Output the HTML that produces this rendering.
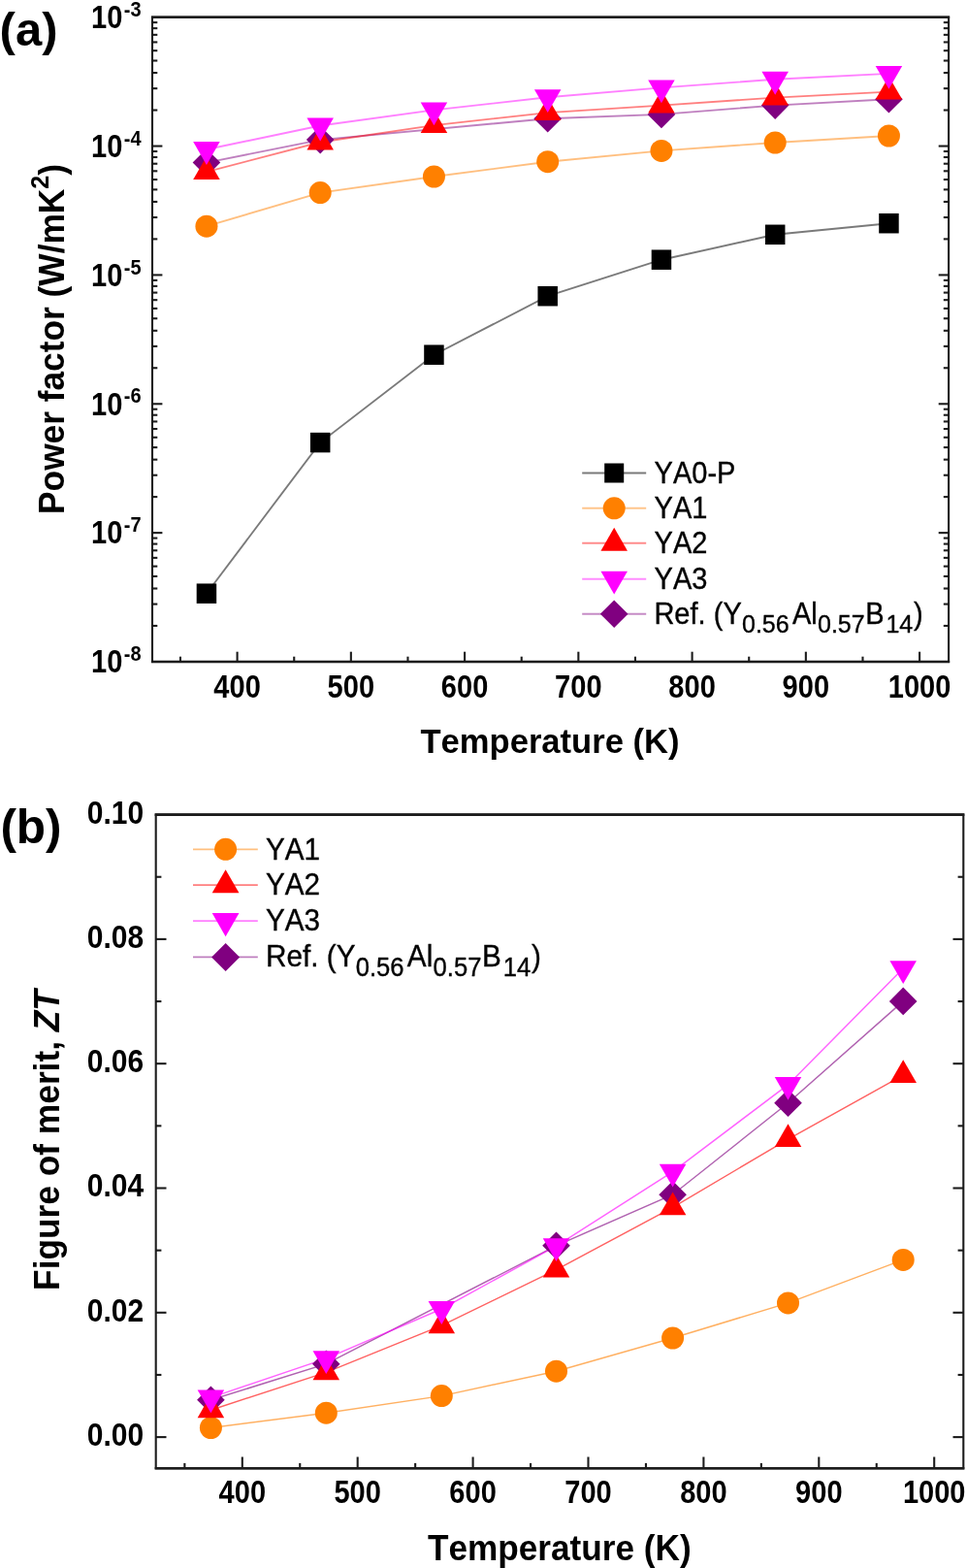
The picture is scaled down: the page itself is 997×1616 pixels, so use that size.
<!DOCTYPE html>
<html><head><meta charset="utf-8"><title>Figure</title>
<style>html,body{margin:0;padding:0;background:#fff}svg text{font-family:"Liberation Sans",Arial,sans-serif;font-kerning:none}</style>
</head><body>
<svg width="997" height="1616" viewBox="0 0 997 1616" style="display:block">
<rect width="997" height="1616" fill="#fff"/>
<g id="chartA">
<polyline points="212.94,611.70 330.19,456.10 447.44,365.70 564.69,305.20 681.94,267.70 799.19,241.80 916.44,230.20" fill="none" stroke="#000" stroke-width="1.9" stroke-opacity="0.52"/>
<polyline points="212.94,233.20 330.19,198.60 447.44,182.00 564.69,166.70 681.94,155.40 799.19,147.00 916.44,140.00" fill="none" stroke="#FF8000" stroke-width="1.9" stroke-opacity="0.5"/>
<polyline points="212.94,167.60 330.19,144.10 564.69,122.20 681.94,117.90 799.19,108.60 916.44,102.30" fill="none" stroke="#800080" stroke-width="1.9" stroke-opacity="0.5"/>
<polyline points="212.94,177.10 330.19,146.50 447.44,129.10 564.69,116.10 681.94,108.60 799.19,100.60 916.44,94.60" fill="none" stroke="#FF0000" stroke-width="1.9" stroke-opacity="0.5"/>
<polyline points="212.94,154.00 330.19,129.50 447.44,113.40 564.69,100.20 681.94,90.40 799.19,81.80 916.44,75.90" fill="none" stroke="#FF00FF" stroke-width="1.9" stroke-opacity="0.5"/>
<rect x="202.69" y="601.45" width="20.5" height="20.5" fill="#000"/>
<rect x="319.94" y="445.85" width="20.5" height="20.5" fill="#000"/>
<rect x="437.19" y="355.45" width="20.5" height="20.5" fill="#000"/>
<rect x="554.44" y="294.95" width="20.5" height="20.5" fill="#000"/>
<rect x="671.69" y="257.45" width="20.5" height="20.5" fill="#000"/>
<rect x="788.94" y="231.55" width="20.5" height="20.5" fill="#000"/>
<rect x="906.19" y="219.95" width="20.5" height="20.5" fill="#000"/>
<circle cx="212.94" cy="233.20" r="11.5" fill="#FF8000"/>
<circle cx="330.19" cy="198.60" r="11.5" fill="#FF8000"/>
<circle cx="447.44" cy="182.00" r="11.5" fill="#FF8000"/>
<circle cx="564.69" cy="166.70" r="11.5" fill="#FF8000"/>
<circle cx="681.94" cy="155.40" r="11.5" fill="#FF8000"/>
<circle cx="799.19" cy="147.00" r="11.5" fill="#FF8000"/>
<circle cx="916.44" cy="140.00" r="11.5" fill="#FF8000"/>
<polygon points="198.64,167.60 212.94,153.30 227.24,167.60 212.94,181.90" fill="#800080"/>
<polygon points="315.89,144.10 330.19,129.80 344.49,144.10 330.19,158.40" fill="#800080"/>
<polygon points="550.39,122.20 564.69,107.90 578.99,122.20 564.69,136.50" fill="#800080"/>
<polygon points="667.64,117.90 681.94,103.60 696.24,117.90 681.94,132.20" fill="#800080"/>
<polygon points="784.89,108.60 799.19,94.30 813.49,108.60 799.19,122.90" fill="#800080"/>
<polygon points="902.14,102.30 916.44,88.00 930.74,102.30 916.44,116.60" fill="#800080"/>
<polygon points="199.19,185.04 226.69,185.04 212.94,161.22" fill="#FF0000"/>
<polygon points="316.44,154.44 343.94,154.44 330.19,130.62" fill="#FF0000"/>
<polygon points="433.69,137.04 461.19,137.04 447.44,113.22" fill="#FF0000"/>
<polygon points="550.94,124.04 578.44,124.04 564.69,100.22" fill="#FF0000"/>
<polygon points="668.19,116.54 695.69,116.54 681.94,92.72" fill="#FF0000"/>
<polygon points="785.44,108.54 812.94,108.54 799.19,84.72" fill="#FF0000"/>
<polygon points="902.69,102.54 930.19,102.54 916.44,78.72" fill="#FF0000"/>
<polygon points="199.19,146.06 226.69,146.06 212.94,169.88" fill="#FF00FF"/>
<polygon points="316.44,121.56 343.94,121.56 330.19,145.38" fill="#FF00FF"/>
<polygon points="433.69,105.46 461.19,105.46 447.44,129.28" fill="#FF00FF"/>
<polygon points="550.94,92.26 578.44,92.26 564.69,116.08" fill="#FF00FF"/>
<polygon points="668.19,82.46 695.69,82.46 681.94,106.28" fill="#FF00FF"/>
<polygon points="785.44,73.86 812.94,73.86 799.19,97.68" fill="#FF00FF"/>
<polygon points="902.69,67.96 930.19,67.96 916.44,91.78" fill="#FF00FF"/>
<rect x="157.0" y="17.7" width="821.10" height="664.30" fill="none" stroke="#1c1c1c" stroke-width="2.1"/>
<path d="M155.95,17.7H979.15M155.95,682.0H979.15" fill="none" stroke="#1c1c1c" stroke-width="2.6"/>
<line x1="185.97" y1="682.00" x2="185.97" y2="676.70" stroke="#1c1c1c" stroke-width="2.1"/>
<line x1="244.60" y1="682.00" x2="244.60" y2="671.70" stroke="#1c1c1c" stroke-width="2.1"/>
<line x1="303.23" y1="682.00" x2="303.23" y2="676.70" stroke="#1c1c1c" stroke-width="2.1"/>
<line x1="361.85" y1="682.00" x2="361.85" y2="671.70" stroke="#1c1c1c" stroke-width="2.1"/>
<line x1="420.48" y1="682.00" x2="420.48" y2="676.70" stroke="#1c1c1c" stroke-width="2.1"/>
<line x1="479.10" y1="682.00" x2="479.10" y2="671.70" stroke="#1c1c1c" stroke-width="2.1"/>
<line x1="537.73" y1="682.00" x2="537.73" y2="676.70" stroke="#1c1c1c" stroke-width="2.1"/>
<line x1="596.35" y1="682.00" x2="596.35" y2="671.70" stroke="#1c1c1c" stroke-width="2.1"/>
<line x1="654.98" y1="682.00" x2="654.98" y2="676.70" stroke="#1c1c1c" stroke-width="2.1"/>
<line x1="713.60" y1="682.00" x2="713.60" y2="671.70" stroke="#1c1c1c" stroke-width="2.1"/>
<line x1="772.23" y1="682.00" x2="772.23" y2="676.70" stroke="#1c1c1c" stroke-width="2.1"/>
<line x1="830.85" y1="682.00" x2="830.85" y2="671.70" stroke="#1c1c1c" stroke-width="2.1"/>
<line x1="889.48" y1="682.00" x2="889.48" y2="676.70" stroke="#1c1c1c" stroke-width="2.1"/>
<line x1="948.10" y1="682.00" x2="948.10" y2="671.70" stroke="#1c1c1c" stroke-width="2.1"/>
<line x1="157.00" y1="113.52" x2="162.30" y2="113.52" stroke="#1c1c1c" stroke-width="2.1"/>
<line x1="978.10" y1="113.52" x2="972.80" y2="113.52" stroke="#1c1c1c" stroke-width="2.1"/>
<line x1="157.00" y1="91.15" x2="162.30" y2="91.15" stroke="#1c1c1c" stroke-width="2.1"/>
<line x1="978.10" y1="91.15" x2="972.80" y2="91.15" stroke="#1c1c1c" stroke-width="2.1"/>
<line x1="157.00" y1="75.07" x2="162.30" y2="75.07" stroke="#1c1c1c" stroke-width="2.1"/>
<line x1="978.10" y1="75.07" x2="972.80" y2="75.07" stroke="#1c1c1c" stroke-width="2.1"/>
<line x1="157.00" y1="62.51" x2="162.30" y2="62.51" stroke="#1c1c1c" stroke-width="2.1"/>
<line x1="978.10" y1="62.51" x2="972.80" y2="62.51" stroke="#1c1c1c" stroke-width="2.1"/>
<line x1="157.00" y1="52.20" x2="162.30" y2="52.20" stroke="#1c1c1c" stroke-width="2.1"/>
<line x1="978.10" y1="52.20" x2="972.80" y2="52.20" stroke="#1c1c1c" stroke-width="2.1"/>
<line x1="157.00" y1="43.45" x2="162.30" y2="43.45" stroke="#1c1c1c" stroke-width="2.1"/>
<line x1="978.10" y1="43.45" x2="972.80" y2="43.45" stroke="#1c1c1c" stroke-width="2.1"/>
<line x1="157.00" y1="35.86" x2="162.30" y2="35.86" stroke="#1c1c1c" stroke-width="2.1"/>
<line x1="978.10" y1="35.86" x2="972.80" y2="35.86" stroke="#1c1c1c" stroke-width="2.1"/>
<line x1="157.00" y1="29.15" x2="162.30" y2="29.15" stroke="#1c1c1c" stroke-width="2.1"/>
<line x1="978.10" y1="29.15" x2="972.80" y2="29.15" stroke="#1c1c1c" stroke-width="2.1"/>
<line x1="157.00" y1="23.14" x2="162.30" y2="23.14" stroke="#1c1c1c" stroke-width="2.1"/>
<line x1="978.10" y1="23.14" x2="972.80" y2="23.14" stroke="#1c1c1c" stroke-width="2.1"/>
<line x1="157.00" y1="150.56" x2="167.40" y2="150.56" stroke="#1c1c1c" stroke-width="2.1"/>
<line x1="978.10" y1="150.56" x2="967.70" y2="150.56" stroke="#1c1c1c" stroke-width="2.1"/>
<line x1="157.00" y1="246.38" x2="162.30" y2="246.38" stroke="#1c1c1c" stroke-width="2.1"/>
<line x1="978.10" y1="246.38" x2="972.80" y2="246.38" stroke="#1c1c1c" stroke-width="2.1"/>
<line x1="157.00" y1="224.01" x2="162.30" y2="224.01" stroke="#1c1c1c" stroke-width="2.1"/>
<line x1="978.10" y1="224.01" x2="972.80" y2="224.01" stroke="#1c1c1c" stroke-width="2.1"/>
<line x1="157.00" y1="207.93" x2="162.30" y2="207.93" stroke="#1c1c1c" stroke-width="2.1"/>
<line x1="978.10" y1="207.93" x2="972.80" y2="207.93" stroke="#1c1c1c" stroke-width="2.1"/>
<line x1="157.00" y1="195.37" x2="162.30" y2="195.37" stroke="#1c1c1c" stroke-width="2.1"/>
<line x1="978.10" y1="195.37" x2="972.80" y2="195.37" stroke="#1c1c1c" stroke-width="2.1"/>
<line x1="157.00" y1="185.06" x2="162.30" y2="185.06" stroke="#1c1c1c" stroke-width="2.1"/>
<line x1="978.10" y1="185.06" x2="972.80" y2="185.06" stroke="#1c1c1c" stroke-width="2.1"/>
<line x1="157.00" y1="176.31" x2="162.30" y2="176.31" stroke="#1c1c1c" stroke-width="2.1"/>
<line x1="978.10" y1="176.31" x2="972.80" y2="176.31" stroke="#1c1c1c" stroke-width="2.1"/>
<line x1="157.00" y1="168.72" x2="162.30" y2="168.72" stroke="#1c1c1c" stroke-width="2.1"/>
<line x1="978.10" y1="168.72" x2="972.80" y2="168.72" stroke="#1c1c1c" stroke-width="2.1"/>
<line x1="157.00" y1="162.01" x2="162.30" y2="162.01" stroke="#1c1c1c" stroke-width="2.1"/>
<line x1="978.10" y1="162.01" x2="972.80" y2="162.01" stroke="#1c1c1c" stroke-width="2.1"/>
<line x1="157.00" y1="156.00" x2="162.30" y2="156.00" stroke="#1c1c1c" stroke-width="2.1"/>
<line x1="978.10" y1="156.00" x2="972.80" y2="156.00" stroke="#1c1c1c" stroke-width="2.1"/>
<line x1="157.00" y1="283.42" x2="167.40" y2="283.42" stroke="#1c1c1c" stroke-width="2.1"/>
<line x1="978.10" y1="283.42" x2="967.70" y2="283.42" stroke="#1c1c1c" stroke-width="2.1"/>
<line x1="157.00" y1="379.24" x2="162.30" y2="379.24" stroke="#1c1c1c" stroke-width="2.1"/>
<line x1="978.10" y1="379.24" x2="972.80" y2="379.24" stroke="#1c1c1c" stroke-width="2.1"/>
<line x1="157.00" y1="356.87" x2="162.30" y2="356.87" stroke="#1c1c1c" stroke-width="2.1"/>
<line x1="978.10" y1="356.87" x2="972.80" y2="356.87" stroke="#1c1c1c" stroke-width="2.1"/>
<line x1="157.00" y1="340.79" x2="162.30" y2="340.79" stroke="#1c1c1c" stroke-width="2.1"/>
<line x1="978.10" y1="340.79" x2="972.80" y2="340.79" stroke="#1c1c1c" stroke-width="2.1"/>
<line x1="157.00" y1="328.23" x2="162.30" y2="328.23" stroke="#1c1c1c" stroke-width="2.1"/>
<line x1="978.10" y1="328.23" x2="972.80" y2="328.23" stroke="#1c1c1c" stroke-width="2.1"/>
<line x1="157.00" y1="317.92" x2="162.30" y2="317.92" stroke="#1c1c1c" stroke-width="2.1"/>
<line x1="978.10" y1="317.92" x2="972.80" y2="317.92" stroke="#1c1c1c" stroke-width="2.1"/>
<line x1="157.00" y1="309.17" x2="162.30" y2="309.17" stroke="#1c1c1c" stroke-width="2.1"/>
<line x1="978.10" y1="309.17" x2="972.80" y2="309.17" stroke="#1c1c1c" stroke-width="2.1"/>
<line x1="157.00" y1="301.58" x2="162.30" y2="301.58" stroke="#1c1c1c" stroke-width="2.1"/>
<line x1="978.10" y1="301.58" x2="972.80" y2="301.58" stroke="#1c1c1c" stroke-width="2.1"/>
<line x1="157.00" y1="294.87" x2="162.30" y2="294.87" stroke="#1c1c1c" stroke-width="2.1"/>
<line x1="978.10" y1="294.87" x2="972.80" y2="294.87" stroke="#1c1c1c" stroke-width="2.1"/>
<line x1="157.00" y1="288.86" x2="162.30" y2="288.86" stroke="#1c1c1c" stroke-width="2.1"/>
<line x1="978.10" y1="288.86" x2="972.80" y2="288.86" stroke="#1c1c1c" stroke-width="2.1"/>
<line x1="157.00" y1="416.28" x2="167.40" y2="416.28" stroke="#1c1c1c" stroke-width="2.1"/>
<line x1="978.10" y1="416.28" x2="967.70" y2="416.28" stroke="#1c1c1c" stroke-width="2.1"/>
<line x1="157.00" y1="512.10" x2="162.30" y2="512.10" stroke="#1c1c1c" stroke-width="2.1"/>
<line x1="978.10" y1="512.10" x2="972.80" y2="512.10" stroke="#1c1c1c" stroke-width="2.1"/>
<line x1="157.00" y1="489.73" x2="162.30" y2="489.73" stroke="#1c1c1c" stroke-width="2.1"/>
<line x1="978.10" y1="489.73" x2="972.80" y2="489.73" stroke="#1c1c1c" stroke-width="2.1"/>
<line x1="157.00" y1="473.65" x2="162.30" y2="473.65" stroke="#1c1c1c" stroke-width="2.1"/>
<line x1="978.10" y1="473.65" x2="972.80" y2="473.65" stroke="#1c1c1c" stroke-width="2.1"/>
<line x1="157.00" y1="461.09" x2="162.30" y2="461.09" stroke="#1c1c1c" stroke-width="2.1"/>
<line x1="978.10" y1="461.09" x2="972.80" y2="461.09" stroke="#1c1c1c" stroke-width="2.1"/>
<line x1="157.00" y1="450.78" x2="162.30" y2="450.78" stroke="#1c1c1c" stroke-width="2.1"/>
<line x1="978.10" y1="450.78" x2="972.80" y2="450.78" stroke="#1c1c1c" stroke-width="2.1"/>
<line x1="157.00" y1="442.03" x2="162.30" y2="442.03" stroke="#1c1c1c" stroke-width="2.1"/>
<line x1="978.10" y1="442.03" x2="972.80" y2="442.03" stroke="#1c1c1c" stroke-width="2.1"/>
<line x1="157.00" y1="434.44" x2="162.30" y2="434.44" stroke="#1c1c1c" stroke-width="2.1"/>
<line x1="978.10" y1="434.44" x2="972.80" y2="434.44" stroke="#1c1c1c" stroke-width="2.1"/>
<line x1="157.00" y1="427.73" x2="162.30" y2="427.73" stroke="#1c1c1c" stroke-width="2.1"/>
<line x1="978.10" y1="427.73" x2="972.80" y2="427.73" stroke="#1c1c1c" stroke-width="2.1"/>
<line x1="157.00" y1="421.72" x2="162.30" y2="421.72" stroke="#1c1c1c" stroke-width="2.1"/>
<line x1="978.10" y1="421.72" x2="972.80" y2="421.72" stroke="#1c1c1c" stroke-width="2.1"/>
<line x1="157.00" y1="549.14" x2="167.40" y2="549.14" stroke="#1c1c1c" stroke-width="2.1"/>
<line x1="978.10" y1="549.14" x2="967.70" y2="549.14" stroke="#1c1c1c" stroke-width="2.1"/>
<line x1="157.00" y1="644.96" x2="162.30" y2="644.96" stroke="#1c1c1c" stroke-width="2.1"/>
<line x1="978.10" y1="644.96" x2="972.80" y2="644.96" stroke="#1c1c1c" stroke-width="2.1"/>
<line x1="157.00" y1="622.59" x2="162.30" y2="622.59" stroke="#1c1c1c" stroke-width="2.1"/>
<line x1="978.10" y1="622.59" x2="972.80" y2="622.59" stroke="#1c1c1c" stroke-width="2.1"/>
<line x1="157.00" y1="606.51" x2="162.30" y2="606.51" stroke="#1c1c1c" stroke-width="2.1"/>
<line x1="978.10" y1="606.51" x2="972.80" y2="606.51" stroke="#1c1c1c" stroke-width="2.1"/>
<line x1="157.00" y1="593.95" x2="162.30" y2="593.95" stroke="#1c1c1c" stroke-width="2.1"/>
<line x1="978.10" y1="593.95" x2="972.80" y2="593.95" stroke="#1c1c1c" stroke-width="2.1"/>
<line x1="157.00" y1="583.64" x2="162.30" y2="583.64" stroke="#1c1c1c" stroke-width="2.1"/>
<line x1="978.10" y1="583.64" x2="972.80" y2="583.64" stroke="#1c1c1c" stroke-width="2.1"/>
<line x1="157.00" y1="574.89" x2="162.30" y2="574.89" stroke="#1c1c1c" stroke-width="2.1"/>
<line x1="978.10" y1="574.89" x2="972.80" y2="574.89" stroke="#1c1c1c" stroke-width="2.1"/>
<line x1="157.00" y1="567.30" x2="162.30" y2="567.30" stroke="#1c1c1c" stroke-width="2.1"/>
<line x1="978.10" y1="567.30" x2="972.80" y2="567.30" stroke="#1c1c1c" stroke-width="2.1"/>
<line x1="157.00" y1="560.59" x2="162.30" y2="560.59" stroke="#1c1c1c" stroke-width="2.1"/>
<line x1="978.10" y1="560.59" x2="972.80" y2="560.59" stroke="#1c1c1c" stroke-width="2.1"/>
<line x1="157.00" y1="554.58" x2="162.30" y2="554.58" stroke="#1c1c1c" stroke-width="2.1"/>
<line x1="978.10" y1="554.58" x2="972.80" y2="554.58" stroke="#1c1c1c" stroke-width="2.1"/>
<text transform="translate(94.00,29.00) scale(0.97,1.09)" font-family="Liberation Sans, Arial, sans-serif" font-size="30" font-weight="bold" text-anchor="start" fill="#000" >10</text>
<text transform="translate(127.80,16.80) scale(1.0,1.06)" font-family="Liberation Sans, Arial, sans-serif" font-size="20" font-weight="bold" text-anchor="start" fill="#000" >-3</text>
<text transform="translate(94.00,161.86) scale(0.97,1.09)" font-family="Liberation Sans, Arial, sans-serif" font-size="30" font-weight="bold" text-anchor="start" fill="#000" >10</text>
<text transform="translate(127.80,149.66) scale(1.0,1.06)" font-family="Liberation Sans, Arial, sans-serif" font-size="20" font-weight="bold" text-anchor="start" fill="#000" >-4</text>
<text transform="translate(94.00,294.72) scale(0.97,1.09)" font-family="Liberation Sans, Arial, sans-serif" font-size="30" font-weight="bold" text-anchor="start" fill="#000" >10</text>
<text transform="translate(127.80,282.52) scale(1.0,1.06)" font-family="Liberation Sans, Arial, sans-serif" font-size="20" font-weight="bold" text-anchor="start" fill="#000" >-5</text>
<text transform="translate(94.00,427.58) scale(0.97,1.09)" font-family="Liberation Sans, Arial, sans-serif" font-size="30" font-weight="bold" text-anchor="start" fill="#000" >10</text>
<text transform="translate(127.80,415.38) scale(1.0,1.06)" font-family="Liberation Sans, Arial, sans-serif" font-size="20" font-weight="bold" text-anchor="start" fill="#000" >-6</text>
<text transform="translate(94.00,560.44) scale(0.97,1.09)" font-family="Liberation Sans, Arial, sans-serif" font-size="30" font-weight="bold" text-anchor="start" fill="#000" >10</text>
<text transform="translate(127.80,548.24) scale(1.0,1.06)" font-family="Liberation Sans, Arial, sans-serif" font-size="20" font-weight="bold" text-anchor="start" fill="#000" >-7</text>
<text transform="translate(94.00,693.30) scale(0.97,1.09)" font-family="Liberation Sans, Arial, sans-serif" font-size="30" font-weight="bold" text-anchor="start" fill="#000" >10</text>
<text transform="translate(127.80,681.10) scale(1.0,1.06)" font-family="Liberation Sans, Arial, sans-serif" font-size="20" font-weight="bold" text-anchor="start" fill="#000" >-8</text>
<text transform="translate(244.60,718.60) scale(0.985,1.12)" font-family="Liberation Sans, Arial, sans-serif" font-size="29.5" font-weight="bold" text-anchor="middle" fill="#000" >400</text>
<text transform="translate(361.85,718.60) scale(0.985,1.12)" font-family="Liberation Sans, Arial, sans-serif" font-size="29.5" font-weight="bold" text-anchor="middle" fill="#000" >500</text>
<text transform="translate(479.10,718.60) scale(0.985,1.12)" font-family="Liberation Sans, Arial, sans-serif" font-size="29.5" font-weight="bold" text-anchor="middle" fill="#000" >600</text>
<text transform="translate(596.35,718.60) scale(0.985,1.12)" font-family="Liberation Sans, Arial, sans-serif" font-size="29.5" font-weight="bold" text-anchor="middle" fill="#000" >700</text>
<text transform="translate(713.60,718.60) scale(0.985,1.12)" font-family="Liberation Sans, Arial, sans-serif" font-size="29.5" font-weight="bold" text-anchor="middle" fill="#000" >800</text>
<text transform="translate(830.85,718.60) scale(0.985,1.12)" font-family="Liberation Sans, Arial, sans-serif" font-size="29.5" font-weight="bold" text-anchor="middle" fill="#000" >900</text>
<text transform="translate(948.10,718.60) scale(0.985,1.12)" font-family="Liberation Sans, Arial, sans-serif" font-size="29.5" font-weight="bold" text-anchor="middle" fill="#000" >1000</text>
<text transform="translate(567.00,775.50) scale(1.0,1.04)" font-family="Liberation Sans, Arial, sans-serif" font-size="34.6" font-weight="bold" text-anchor="middle" fill="#000" >Temperature (K)</text>
<text transform="translate(66.2,349.5) rotate(-90) scale(1,1.04)" font-family="Liberation Sans, Arial, sans-serif" font-size="35.3" font-weight="bold" text-anchor="middle" fill="#000">Power factor (W/mK<tspan font-size="25" dy="-15.6">2</tspan><tspan dy="15.6">)</tspan></text>
<text x="-0.4" y="46.8" font-family="Liberation Sans, Arial, sans-serif" font-size="49" font-weight="bold" fill="#000">(a)</text>
<line x1="600.2" y1="487.5" x2="666.2" y2="487.5" stroke="#000" stroke-width="2.0" stroke-opacity="0.52"/>
<line x1="600.2" y1="523.8" x2="666.2" y2="523.8" stroke="#FF8000" stroke-width="2.0" stroke-opacity="0.45"/>
<line x1="600.2" y1="559.7" x2="666.2" y2="559.7" stroke="#FF0000" stroke-width="2.0" stroke-opacity="0.45"/>
<line x1="600.2" y1="596.7" x2="666.2" y2="596.7" stroke="#FF00FF" stroke-width="2.0" stroke-opacity="0.45"/>
<line x1="600.2" y1="632.8" x2="666.2" y2="632.8" stroke="#800080" stroke-width="2.0" stroke-opacity="0.45"/>
<rect x="623.20" y="477.50" width="20" height="20" fill="#000"/>
<circle cx="633.20" cy="523.80" r="11.5" fill="#FF8000"/>
<polygon points="619.45,567.64 646.95,567.64 633.20,543.82" fill="#FF0000"/>
<polygon points="619.45,588.76 646.95,588.76 633.20,612.58" fill="#FF00FF"/>
<polygon points="618.90,632.80 633.20,618.50 647.50,632.80 633.20,647.10" fill="#800080"/>
<text transform="translate(674.6,498.00) scale(1,1.08)" font-family="Liberation Sans, Arial, sans-serif" font-size="29" fill="#000" stroke="#000" stroke-width="0.35">YA0-P</text>
<text transform="translate(674.6,534.30) scale(1,1.08)" font-family="Liberation Sans, Arial, sans-serif" font-size="29" fill="#000" stroke="#000" stroke-width="0.35">YA1</text>
<text transform="translate(674.6,570.20) scale(1,1.08)" font-family="Liberation Sans, Arial, sans-serif" font-size="29" fill="#000" stroke="#000" stroke-width="0.35">YA2</text>
<text transform="translate(674.6,607.20) scale(1,1.08)" font-family="Liberation Sans, Arial, sans-serif" font-size="29" fill="#000" stroke="#000" stroke-width="0.35">YA3</text>
<text transform="translate(674.40,642.50) scale(1,1.05)" font-family="Liberation Sans, Arial, sans-serif" font-size="29.00" fill="#000" stroke="#000" stroke-width="0.35">Ref.</text><text transform="translate(735.80,642.50) scale(1,1.05)" font-family="Liberation Sans, Arial, sans-serif" font-size="29.00" fill="#000" stroke="#000" stroke-width="0.35">(Y</text><text transform="translate(765.00,651.80) scale(1,1.05)" font-family="Liberation Sans, Arial, sans-serif" font-size="25.00" fill="#000" stroke="#000" stroke-width="0.35">0.56</text><text transform="translate(816.90,642.50) scale(1,1.05)" font-family="Liberation Sans, Arial, sans-serif" font-size="29.00" fill="#000" stroke="#000" stroke-width="0.35">Al</text><text transform="translate(843.00,651.80) scale(1,1.05)" font-family="Liberation Sans, Arial, sans-serif" font-size="25.00" fill="#000" stroke="#000" stroke-width="0.35">0.57</text><text transform="translate(892.20,642.50) scale(1,1.05)" font-family="Liberation Sans, Arial, sans-serif" font-size="29.00" fill="#000" stroke="#000" stroke-width="0.35">B</text><text transform="translate(913.40,651.80) scale(1,1.05)" font-family="Liberation Sans, Arial, sans-serif" font-size="25.00" fill="#000" stroke="#000" stroke-width="0.35">14</text><text transform="translate(942.00,642.50) scale(1,1.05)" font-family="Liberation Sans, Arial, sans-serif" font-size="29.00" fill="#000" stroke="#000" stroke-width="0.35">)</text>
</g>
<g id="chartB">
<polyline points="217.40,1471.50 336.30,1456.20 455.30,1438.60 573.50,1413.20 693.60,1379.00 812.50,1342.90 931.20,1298.40" fill="none" stroke="#FF8000" stroke-width="1.45" stroke-opacity="0.62"/>
<polyline points="217.40,1442.80 336.30,1405.70 573.50,1283.80 693.60,1231.20 812.50,1136.80 931.20,1031.90" fill="none" stroke="#800080" stroke-width="1.45" stroke-opacity="0.62"/>
<polyline points="217.40,1453.20 336.30,1414.40 455.30,1366.20 573.50,1308.60 693.60,1244.40 812.50,1174.10 931.20,1108.10" fill="none" stroke="#FF0000" stroke-width="1.45" stroke-opacity="0.62"/>
<polyline points="217.40,1440.40 336.30,1400.10 455.30,1349.00 573.50,1284.20 693.60,1207.60 812.50,1117.90 931.20,998.10" fill="none" stroke="#FF00FF" stroke-width="1.45" stroke-opacity="0.62"/>
<circle cx="217.40" cy="1471.50" r="11.5" fill="#FF8000"/>
<circle cx="336.30" cy="1456.20" r="11.5" fill="#FF8000"/>
<circle cx="455.30" cy="1438.60" r="11.5" fill="#FF8000"/>
<circle cx="573.50" cy="1413.20" r="11.5" fill="#FF8000"/>
<circle cx="693.60" cy="1379.00" r="11.5" fill="#FF8000"/>
<circle cx="812.50" cy="1342.90" r="11.5" fill="#FF8000"/>
<circle cx="931.20" cy="1298.40" r="11.5" fill="#FF8000"/>
<polygon points="203.10,1442.80 217.40,1428.50 231.70,1442.80 217.40,1457.10" fill="#800080"/>
<polygon points="322.00,1405.70 336.30,1391.40 350.60,1405.70 336.30,1420.00" fill="#800080"/>
<polygon points="559.20,1283.80 573.50,1269.50 587.80,1283.80 573.50,1298.10" fill="#800080"/>
<polygon points="679.30,1231.20 693.60,1216.90 707.90,1231.20 693.60,1245.50" fill="#800080"/>
<polygon points="798.20,1136.80 812.50,1122.50 826.80,1136.80 812.50,1151.10" fill="#800080"/>
<polygon points="916.90,1031.90 931.20,1017.60 945.50,1031.90 931.20,1046.20" fill="#800080"/>
<polygon points="203.65,1461.14 231.15,1461.14 217.40,1437.32" fill="#FF0000"/>
<polygon points="322.55,1422.34 350.05,1422.34 336.30,1398.52" fill="#FF0000"/>
<polygon points="441.55,1374.14 469.05,1374.14 455.30,1350.32" fill="#FF0000"/>
<polygon points="559.75,1316.54 587.25,1316.54 573.50,1292.72" fill="#FF0000"/>
<polygon points="679.85,1252.34 707.35,1252.34 693.60,1228.52" fill="#FF0000"/>
<polygon points="798.75,1182.04 826.25,1182.04 812.50,1158.22" fill="#FF0000"/>
<polygon points="917.45,1116.04 944.95,1116.04 931.20,1092.22" fill="#FF0000"/>
<polygon points="203.65,1432.46 231.15,1432.46 217.40,1456.28" fill="#FF00FF"/>
<polygon points="322.55,1392.16 350.05,1392.16 336.30,1415.98" fill="#FF00FF"/>
<polygon points="441.55,1341.06 469.05,1341.06 455.30,1364.88" fill="#FF00FF"/>
<polygon points="559.75,1276.26 587.25,1276.26 573.50,1300.08" fill="#FF00FF"/>
<polygon points="679.85,1199.66 707.35,1199.66 693.60,1223.48" fill="#FF00FF"/>
<polygon points="798.75,1109.96 826.25,1109.96 812.50,1133.78" fill="#FF00FF"/>
<polygon points="917.45,990.16 944.95,990.16 931.20,1013.98" fill="#FF00FF"/>
<rect x="160.7" y="839.6" width="832.60" height="673.70" fill="none" stroke="#1c1c1c" stroke-width="2.1"/>
<path d="M159.65,839.6H994.35M159.65,1513.3H994.35" fill="none" stroke="#1c1c1c" stroke-width="2.6"/>
<line x1="190.35" y1="1513.30" x2="190.35" y2="1507.90" stroke="#1c1c1c" stroke-width="2.1"/>
<line x1="249.80" y1="1513.30" x2="249.80" y2="1501.50" stroke="#1c1c1c" stroke-width="2.1"/>
<line x1="309.25" y1="1513.30" x2="309.25" y2="1507.90" stroke="#1c1c1c" stroke-width="2.1"/>
<line x1="368.70" y1="1513.30" x2="368.70" y2="1501.50" stroke="#1c1c1c" stroke-width="2.1"/>
<line x1="428.15" y1="1513.30" x2="428.15" y2="1507.90" stroke="#1c1c1c" stroke-width="2.1"/>
<line x1="487.60" y1="1513.30" x2="487.60" y2="1501.50" stroke="#1c1c1c" stroke-width="2.1"/>
<line x1="547.05" y1="1513.30" x2="547.05" y2="1507.90" stroke="#1c1c1c" stroke-width="2.1"/>
<line x1="606.50" y1="1513.30" x2="606.50" y2="1501.50" stroke="#1c1c1c" stroke-width="2.1"/>
<line x1="665.95" y1="1513.30" x2="665.95" y2="1507.90" stroke="#1c1c1c" stroke-width="2.1"/>
<line x1="725.40" y1="1513.30" x2="725.40" y2="1501.50" stroke="#1c1c1c" stroke-width="2.1"/>
<line x1="784.85" y1="1513.30" x2="784.85" y2="1507.90" stroke="#1c1c1c" stroke-width="2.1"/>
<line x1="844.30" y1="1513.30" x2="844.30" y2="1501.50" stroke="#1c1c1c" stroke-width="2.1"/>
<line x1="903.75" y1="1513.30" x2="903.75" y2="1507.90" stroke="#1c1c1c" stroke-width="2.1"/>
<line x1="963.20" y1="1513.30" x2="963.20" y2="1501.50" stroke="#1c1c1c" stroke-width="2.1"/>
<line x1="160.70" y1="1481.10" x2="171.50" y2="1481.10" stroke="#1c1c1c" stroke-width="2.1"/>
<line x1="993.30" y1="1481.10" x2="982.50" y2="1481.10" stroke="#1c1c1c" stroke-width="2.1"/>
<line x1="160.70" y1="1416.95" x2="166.40" y2="1416.95" stroke="#1c1c1c" stroke-width="2.1"/>
<line x1="993.30" y1="1416.95" x2="987.60" y2="1416.95" stroke="#1c1c1c" stroke-width="2.1"/>
<line x1="160.70" y1="1352.80" x2="171.50" y2="1352.80" stroke="#1c1c1c" stroke-width="2.1"/>
<line x1="993.30" y1="1352.80" x2="982.50" y2="1352.80" stroke="#1c1c1c" stroke-width="2.1"/>
<line x1="160.70" y1="1288.65" x2="166.40" y2="1288.65" stroke="#1c1c1c" stroke-width="2.1"/>
<line x1="993.30" y1="1288.65" x2="987.60" y2="1288.65" stroke="#1c1c1c" stroke-width="2.1"/>
<line x1="160.70" y1="1224.50" x2="171.50" y2="1224.50" stroke="#1c1c1c" stroke-width="2.1"/>
<line x1="993.30" y1="1224.50" x2="982.50" y2="1224.50" stroke="#1c1c1c" stroke-width="2.1"/>
<line x1="160.70" y1="1160.35" x2="166.40" y2="1160.35" stroke="#1c1c1c" stroke-width="2.1"/>
<line x1="993.30" y1="1160.35" x2="987.60" y2="1160.35" stroke="#1c1c1c" stroke-width="2.1"/>
<line x1="160.70" y1="1096.20" x2="171.50" y2="1096.20" stroke="#1c1c1c" stroke-width="2.1"/>
<line x1="993.30" y1="1096.20" x2="982.50" y2="1096.20" stroke="#1c1c1c" stroke-width="2.1"/>
<line x1="160.70" y1="1032.05" x2="166.40" y2="1032.05" stroke="#1c1c1c" stroke-width="2.1"/>
<line x1="993.30" y1="1032.05" x2="987.60" y2="1032.05" stroke="#1c1c1c" stroke-width="2.1"/>
<line x1="160.70" y1="967.90" x2="171.50" y2="967.90" stroke="#1c1c1c" stroke-width="2.1"/>
<line x1="993.30" y1="967.90" x2="982.50" y2="967.90" stroke="#1c1c1c" stroke-width="2.1"/>
<line x1="160.70" y1="903.75" x2="166.40" y2="903.75" stroke="#1c1c1c" stroke-width="2.1"/>
<line x1="993.30" y1="903.75" x2="987.60" y2="903.75" stroke="#1c1c1c" stroke-width="2.1"/>
<text transform="translate(148.20,1490.00) scale(1.0,1.12)" font-family="Liberation Sans, Arial, sans-serif" font-size="30" font-weight="bold" text-anchor="end" fill="#000" >0.00</text>
<text transform="translate(148.20,1361.70) scale(1.0,1.12)" font-family="Liberation Sans, Arial, sans-serif" font-size="30" font-weight="bold" text-anchor="end" fill="#000" >0.02</text>
<text transform="translate(148.20,1233.40) scale(1.0,1.12)" font-family="Liberation Sans, Arial, sans-serif" font-size="30" font-weight="bold" text-anchor="end" fill="#000" >0.04</text>
<text transform="translate(148.20,1105.10) scale(1.0,1.12)" font-family="Liberation Sans, Arial, sans-serif" font-size="30" font-weight="bold" text-anchor="end" fill="#000" >0.06</text>
<text transform="translate(148.20,976.80) scale(1.0,1.12)" font-family="Liberation Sans, Arial, sans-serif" font-size="30" font-weight="bold" text-anchor="end" fill="#000" >0.08</text>
<text transform="translate(148.20,848.50) scale(1.0,1.12)" font-family="Liberation Sans, Arial, sans-serif" font-size="30" font-weight="bold" text-anchor="end" fill="#000" >0.10</text>
<text transform="translate(249.80,1549.30) scale(0.985,1.12)" font-family="Liberation Sans, Arial, sans-serif" font-size="29.5" font-weight="bold" text-anchor="middle" fill="#000" >400</text>
<text transform="translate(368.70,1549.30) scale(0.985,1.12)" font-family="Liberation Sans, Arial, sans-serif" font-size="29.5" font-weight="bold" text-anchor="middle" fill="#000" >500</text>
<text transform="translate(487.60,1549.30) scale(0.985,1.12)" font-family="Liberation Sans, Arial, sans-serif" font-size="29.5" font-weight="bold" text-anchor="middle" fill="#000" >600</text>
<text transform="translate(606.50,1549.30) scale(0.985,1.12)" font-family="Liberation Sans, Arial, sans-serif" font-size="29.5" font-weight="bold" text-anchor="middle" fill="#000" >700</text>
<text transform="translate(725.40,1549.30) scale(0.985,1.12)" font-family="Liberation Sans, Arial, sans-serif" font-size="29.5" font-weight="bold" text-anchor="middle" fill="#000" >800</text>
<text transform="translate(844.30,1549.30) scale(0.985,1.12)" font-family="Liberation Sans, Arial, sans-serif" font-size="29.5" font-weight="bold" text-anchor="middle" fill="#000" >900</text>
<text transform="translate(963.20,1549.30) scale(0.985,1.12)" font-family="Liberation Sans, Arial, sans-serif" font-size="29.5" font-weight="bold" text-anchor="middle" fill="#000" >1000</text>
<text transform="translate(576.80,1607.60) scale(1.0,1.04)" font-family="Liberation Sans, Arial, sans-serif" font-size="35.2" font-weight="bold" text-anchor="middle" fill="#000" >Temperature (K)</text>
<text transform="translate(60.7,1175) rotate(-90) scale(1,1.05)" font-family="Liberation Sans, Arial, sans-serif" font-size="35.3" font-weight="bold" text-anchor="middle" fill="#000">Figure of merit, <tspan font-style="italic">ZT</tspan></text>
<text x="0.4" y="869.2" font-family="Liberation Sans, Arial, sans-serif" font-size="49.5" font-weight="bold" fill="#000">(b)</text>
<line x1="199" y1="875.3" x2="265.8" y2="875.3" stroke="#FF8000" stroke-width="1.8" stroke-opacity="0.5"/>
<line x1="199" y1="912.2" x2="265.8" y2="912.2" stroke="#FF0000" stroke-width="1.8" stroke-opacity="0.5"/>
<line x1="199" y1="949.1" x2="265.8" y2="949.1" stroke="#FF00FF" stroke-width="1.8" stroke-opacity="0.5"/>
<line x1="199" y1="986.4" x2="265.8" y2="986.4" stroke="#800080" stroke-width="1.8" stroke-opacity="0.5"/>
<circle cx="232.60" cy="875.30" r="11.5" fill="#FF8000"/>
<polygon points="218.70,920.22 246.50,920.22 232.60,896.15" fill="#FF0000"/>
<polygon points="218.70,941.08 246.50,941.08 232.60,965.15" fill="#FF00FF"/>
<polygon points="218.10,986.40 232.60,971.90 247.10,986.40 232.60,1000.90" fill="#800080"/>
<text transform="translate(274.0,885.50) scale(1,1.08)" font-family="Liberation Sans, Arial, sans-serif" font-size="29.7" fill="#000" stroke="#000" stroke-width="0.35">YA1</text>
<text transform="translate(274.0,922.40) scale(1,1.08)" font-family="Liberation Sans, Arial, sans-serif" font-size="29.7" fill="#000" stroke="#000" stroke-width="0.35">YA2</text>
<text transform="translate(274.0,959.30) scale(1,1.08)" font-family="Liberation Sans, Arial, sans-serif" font-size="29.7" fill="#000" stroke="#000" stroke-width="0.35">YA3</text>
<text transform="translate(273.95,996.00) scale(1,1.05)" font-family="Liberation Sans, Arial, sans-serif" font-size="29.70" fill="#000" stroke="#000" stroke-width="0.35">Ref.</text><text transform="translate(336.83,996.00) scale(1,1.05)" font-family="Liberation Sans, Arial, sans-serif" font-size="29.70" fill="#000" stroke="#000" stroke-width="0.35">(Y</text><text transform="translate(366.73,1005.52) scale(1,1.05)" font-family="Liberation Sans, Arial, sans-serif" font-size="25.60" fill="#000" stroke="#000" stroke-width="0.35">0.56</text><text transform="translate(419.87,996.00) scale(1,1.05)" font-family="Liberation Sans, Arial, sans-serif" font-size="29.70" fill="#000" stroke="#000" stroke-width="0.35">Al</text><text transform="translate(446.60,1005.52) scale(1,1.05)" font-family="Liberation Sans, Arial, sans-serif" font-size="25.60" fill="#000" stroke="#000" stroke-width="0.35">0.57</text><text transform="translate(496.98,996.00) scale(1,1.05)" font-family="Liberation Sans, Arial, sans-serif" font-size="29.70" fill="#000" stroke="#000" stroke-width="0.35">B</text><text transform="translate(518.69,1005.52) scale(1,1.05)" font-family="Liberation Sans, Arial, sans-serif" font-size="25.60" fill="#000" stroke="#000" stroke-width="0.35">14</text><text transform="translate(547.97,996.00) scale(1,1.05)" font-family="Liberation Sans, Arial, sans-serif" font-size="29.70" fill="#000" stroke="#000" stroke-width="0.35">)</text>
</g>
</svg>
</body></html>
